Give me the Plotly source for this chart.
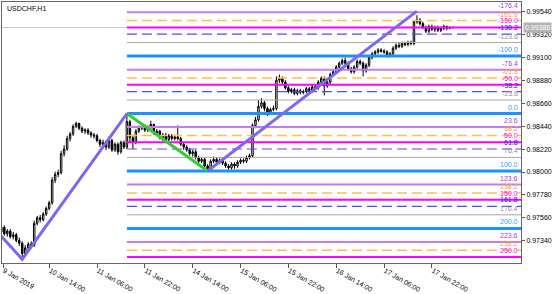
import plotly.graph_objects as go

symbol_label = "USDCHF,H1"

# OHLC in price points (1e-5)
open_pts = [97425,97470,97407,97434,97380,97398,97344,97317,97217,97272,
97308,97299,97507,97561,97543,97597,97651,97705,97922,97977,
97995,98176,98221,98320,98365,98438,98465,98420,98392,98402,
98374,98356,98347,98302,98266,98284,98239,98302,98212,98266,
98194,98284,98239,98483,98329,98284,98392,98420,98438,98402,
98429,98456,98374,98392,98329,98356,98311,98347,98320,98338,
98320,98266,98239,98212,98176,98194,98139,98103,98121,98058,
98031,98103,98121,98094,98112,98085,98058,98040,98076,98058,
98094,98112,98103,98139,98157,98447,98501,98628,98664,98609,
98573,98600,98609,98881,98899,98863,98808,98772,98790,98754,
98781,98763,98772,98799,98781,98817,98808,98863,98899,98826,
98863,98935,98962,99007,99043,99070,99043,98989,98962,99007,
99061,99043,98971,99025,99098,99134,99152,99170,99161,99152,
99116,99134,99188,99215,99206,99233,99224,99242,99233,99441,
99459,99423,99387,99351,99396,99369,99387,99360,99378,99396,
99378,99387]
high_pts = [97516,97488,97452,97452,97425,97416,97371,97335,97299,97326,
97335,97534,97579,97588,97615,97669,97724,97950,98004,98022,
98203,98257,98347,98383,98456,98483,98474,98438,98420,98420,
98392,98374,98365,98320,98311,98302,98320,98320,98284,98284,
98302,98302,98564,98501,98347,98411,98447,98465,98456,98447,
98492,98465,98411,98402,98374,98374,98365,98365,98356,98447,
98338,98284,98257,98230,98212,98212,98157,98139,98139,98076,
98121,98148,98139,98130,98130,98103,98076,98094,98094,98112,
98130,98130,98157,98176,98465,98528,98691,98709,98682,98628,
98618,98637,98917,98935,98917,98881,98826,98808,98808,98799,
98799,98790,98817,98817,98835,98835,98881,98917,98917,98881,
98953,98980,99025,99061,99089,99098,99061,99007,99025,99080,
99080,99061,99043,99116,99152,99170,99188,99188,99179,99170,
99152,99206,99233,99242,99251,99251,99260,99260,99459,99504,
99477,99441,99405,99414,99414,99405,99405,99396,99414,99405,
99396,99396]
low_pts = [97398,97389,97380,97362,97353,97326,97290,97163,97199,97253,
97272,97281,97488,97516,97525,97579,97633,97687,97895,97950,
97977,98148,98203,98293,98347,98420,98402,98374,98365,98356,
98329,98320,98284,98239,98248,98212,98221,98194,98194,98166,
98176,98221,98221,98284,98221,98266,98374,98402,98383,98383,
98411,98356,98347,98311,98302,98293,98293,98302,98302,98302,
98248,98212,98194,98157,98148,98121,98085,98085,98040,98004,
98013,98085,98076,98076,98067,98040,98022,98022,98031,98040,
98076,98085,98085,98121,98139,98420,98483,98609,98582,98537,
98555,98582,98591,98854,98844,98790,98754,98754,98736,98736,
98745,98745,98754,98763,98763,98790,98790,98844,98736,98808,
98844,98917,98944,98989,99025,99025,98971,98944,98944,98989,
99025,98917,98953,99007,99080,99116,99134,99143,99134,99098,
99098,99116,99170,99188,99188,99206,99206,99215,99215,99423,
99405,99369,99333,99333,99351,99342,99342,99342,99360,99360,
99369,99378]
close_pts = [97470,97407,97434,97380,97398,97344,97317,97217,97272,97308,
97290,97507,97561,97543,97597,97651,97705,97922,97977,97995,
98176,98221,98320,98365,98438,98465,98420,98392,98402,98374,
98356,98347,98302,98266,98284,98239,98302,98212,98266,98194,
98284,98239,98483,98329,98284,98392,98420,98438,98402,98429,
98456,98374,98392,98329,98356,98311,98347,98320,98338,98320,
98266,98239,98212,98176,98194,98139,98103,98121,98058,98031,
98103,98121,98094,98112,98085,98058,98040,98076,98058,98094,
98112,98103,98139,98157,98447,98501,98628,98664,98609,98573,
98600,98609,98881,98899,98863,98808,98772,98790,98754,98781,
98763,98772,98799,98781,98817,98808,98863,98899,98826,98863,
98935,98962,99007,99043,99070,99043,98989,98962,99007,99061,
99043,98971,99025,99098,99134,99152,99170,99161,99152,99116,
99134,99188,99215,99206,99233,99224,99242,99233,99441,99459,
99423,99387,99351,99396,99369,99387,99360,99378,99396,99378,
99387,99386]

x_tick_index = [0.6, 16, 32, 48, 64, 80, 96, 112, 128, 144]
x_tick_labels = ["9 Jan 2019", "10 Jan 14:00", "11 Jan 06:00", "11 Jan 22:00",
                 "14 Jan 14:00", "15 Jan 06:00", "15 Jan 22:00", "16 Jan 14:00",
                 "17 Jan 06:00", "17 Jan 22:00"]
y_tick_values = [0.99540, 0.99320, 0.99100, 0.98880, 0.98660, 0.98440,
                 0.98220, 0.98000, 0.97780, 0.97560, 0.97340]

fib_high = 0.98561
fib_low = 0.98010
fib_start_index = 42
fib_levels = [-176.4, -161.8, -150.0, -138.2, -123.6, -100.0, -76.4, -61.8, -50.0,
              -38.2, -23.6, 0.0, 23.6, 38.2, 50.0, 61.8, 76.4, 100.0, 123.6, 138.2,
              150.0, 161.8, 176.4, 200.0, 223.6, 238.2, 250.0]

zigzag_a_index = [0, 7, 42]
zigzag_a_price = [0.97384, 0.97163, 0.98561]
zigzag_b_index = [69, 139]
zigzag_b_price = [0.98010, 0.99543]
green_index = [42, 69]
green_price = [0.98561, 0.98010]
bid_price = 0.99386

# ---- styling ----
X_RANGE = [0.23, 173.8]
Y_RANGE = [0.97127, 0.99631]
FONT = "Liberation Sans, Arial, sans-serif"

family_style = {
    0.0:  dict(line="#1E90FF", width=3, dash="solid", label="#3399FF"),
    23.6: dict(line="#C47BEF", width=2, dash="solid", label="#A040E0"),
    38.2: dict(line="#FFC04D", width=1.5, dash="10px,5px", label="#FFA020"),
    50.0: dict(line="#FF00FF", width=2, dash="solid", label="#FF00FF"),
    61.8: dict(line="#4B4BFF", width=1.2, dash="10px,5px", label="#2020FF"),
    76.4: dict(line="#A8A8A8", width=1, dash="solid", label="#909090"),
}

def pts(a):
    return [v / 100000 for v in a]

fig = go.Figure()

fig.add_trace(go.Scatter(x=X_RANGE, y=[bid_price, bid_price], mode="lines",
                         line=dict(color="#C8C8C8", width=1), hoverinfo="skip"))

fig.add_trace(go.Candlestick(
    x=list(range(len(open_pts))),
    open=pts(open_pts), high=pts(high_pts), low=pts(low_pts), close=pts(close_pts),
    increasing=dict(line=dict(color="black", width=1), fillcolor="white"),
    decreasing=dict(line=dict(color="black", width=1), fillcolor="black"),
    whiskerwidth=0,
))

annotations = []
for lv in fib_levels:
    fam = round(lv % 100, 1)
    if fam == 100.0:
        fam = 0.0
    st = family_style[fam]
    price = fib_high - lv / 100 * (fib_high - fib_low)
    fig.add_trace(go.Scatter(x=[fib_start_index, X_RANGE[1]], y=[price, price], mode="lines",
                             line=dict(color=st["line"], width=st["width"], dash=st["dash"]),
                             hoverinfo="skip"))
    annotations.append(dict(x=1, xref="paper", xanchor="right", xshift=-2,
                            y=price, yref="y", yanchor="bottom", yshift=2,
                            text=f"{lv:.1f}", showarrow=False,
                            font=dict(family=FONT, size=7, color=st["label"]),
                            borderpad=0))

fig.add_trace(go.Scatter(x=green_index, y=green_price, mode="lines",
                         line=dict(color="#32CD32", width=3), hoverinfo="skip"))
fig.add_trace(go.Scatter(x=zigzag_a_index, y=zigzag_a_price, mode="lines",
                         line=dict(color="#7B68EE", width=3), hoverinfo="skip"))
fig.add_trace(go.Scatter(x=zigzag_b_index, y=zigzag_b_price, mode="lines",
                         line=dict(color="#7B68EE", width=3), hoverinfo="skip"))

annotations.append(dict(x=0, xref="paper", xanchor="left", xshift=3,
                        y=1, yref="paper", yanchor="top", yshift=-1,
                        text=symbol_label, showarrow=False,
                        font=dict(family=FONT, size=7, color="black")))
annotations.append(dict(x=1, xref="paper", xanchor="left", xshift=2,
                        y=bid_price, yref="y", yanchor="middle",
                        text=f"{bid_price:.5f}", showarrow=False, bgcolor="#B4B4B4",
                        borderpad=1, font=dict(family=FONT, size=7, color="white")))

fig.update_layout(
    width=560, height=294,
    margin=dict(l=2, r=39, t=1, b=16),
    paper_bgcolor="white", plot_bgcolor="white",
    showlegend=False,
    annotations=annotations,
    font=dict(family=FONT, size=7, color="black"),
)
fig.update_xaxes(range=X_RANGE, rangeslider_visible=False,
                 tickvals=x_tick_index, ticktext=x_tick_labels,
                 ticks="outside", ticklen=4, tickcolor="#555555",
                 ticklabelposition="outside right",
                 showline=True, linecolor="#666666", linewidth=1, mirror=True,
                 showgrid=False, zeroline=False,
                 tickfont=dict(family=FONT, size=7, color="black"))
fig.update_yaxes(range=Y_RANGE, side="right",
                 tickvals=y_tick_values, ticktext=[f"{v:.5f}" for v in y_tick_values],
                 ticks="outside", ticklen=3, tickcolor="#555555",
                 showline=True, linecolor="#666666", linewidth=1, mirror=True,
                 showgrid=False, zeroline=False,
                 tickfont=dict(family=FONT, size=7, color="black"))

fig.write_html("out.html")
